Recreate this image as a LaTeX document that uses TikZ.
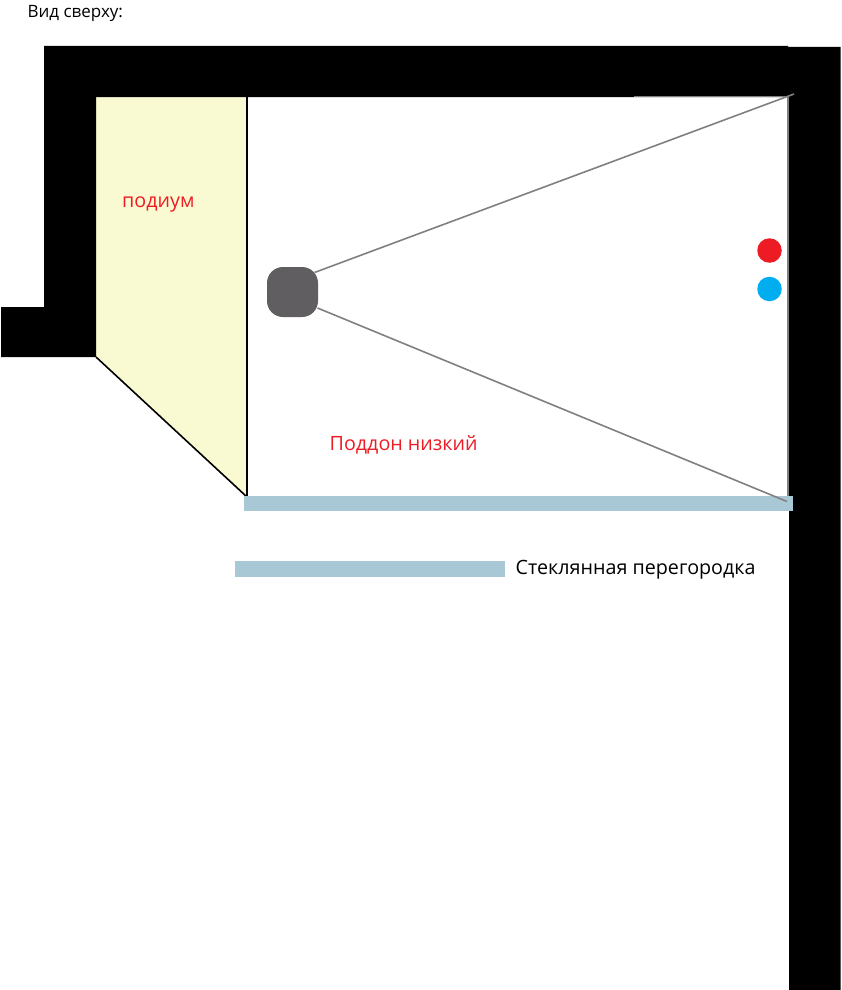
\documentclass[tikz,border=0pt]{standalone}
\usepackage{fontspec}
\setmainfont{Open Sans}
\definecolor{podiumfill}{HTML}{FAFAD2}
\definecolor{glassfill}{HTML}{A9C8D6}
\definecolor{devicefill}{HTML}{605E60}
\definecolor{rayline}{HTML}{808080}
\definecolor{hotred}{HTML}{ED1C24}
\definecolor{coldblue}{HTML}{00AEEF}
\definecolor{labelred}{HTML}{ED1C24}
\tikzset{
  wallshape/.style={fill=black,draw=none},
  glassbar/.style={fill=glassfill,draw=none},
  ray/.style={draw=rayline,line width=1.6pt},
  edgeline/.style={draw=black,line width=1.6pt},
  redlabel/.style={text=labelred,inner sep=0pt,anchor=base west,font=\fontsize{19.7}{22}\selectfont},
  blacklabel/.style={text=black,inner sep=0pt,anchor=base west,font=\fontsize{19.7}{22}\selectfont},
  devicebox/.style={fill=devicefill,draw=none,rounded corners=16pt,minimum width=51pt,minimum height=50pt,inner sep=0pt},
  valve/.style={circle,minimum size=24.5pt,inner sep=0pt,draw=none}
}
\begin{document}
\begin{tikzpicture}[x=1pt,y=-1pt]
\useasboundingbox (0,0) rectangle (842,990);
\fill[white] (0,0) rectangle (842,990);
% podium
\fill[podiumfill] (96,97) -- (247,97) -- (247,497) -- (96,357) -- cycle;
% walls
\fill[wallshape] (44,46) -- (788,46) -- (788,47) -- (840.5,47) -- (840.5,990) -- (789,990)
  -- (789,97) -- (96,97) -- (96,357) -- (1,357) -- (1,307) -- (44,307) -- cycle;
% podium edges
\draw[edgeline] (247,97) -- (247,497) -- (96,357);
% right inner edge
\draw[draw=rayline,line width=2pt] (787.5,97) -- (787.5,496);
\draw[draw=rayline,line width=0.8pt] (634,96.5) -- (788,96.5);
% glass
\fill[glassbar] (244,495.5) rectangle (793,511);
\fill[glassbar] (235,561) rectangle (505,577);
% device and rays
\node[devicebox] (device) at (292.5,292) {};
\coordinate (topcorner) at (794,94);
\coordinate (bottomcorner) at (787,501.5);
\coordinate (raystarta) at (314.5,272.5);
\coordinate (raystartb) at (317.5,308);
\draw[ray] (raystarta) -- (topcorner);
\draw[ray] (raystartb) -- (bottomcorner);
% valves
\node[valve,fill=hotred] (hot) at (769.5,250.5) {};
\node[valve,fill=coldblue] (cold) at (769.5,289) {};
% labels
\node[blacklabel,font=\fontsize{17}{19}\selectfont] (title) at (27.5,17.5) {Вид сверху:};
\node[redlabel] (podium) at (122,207) {подиум};
\node[redlabel] (tray) at (329.5,450) {Поддон низкий};
\node[blacklabel] (legend) at (515.5,574) {Стеклянная перегородка};
\end{tikzpicture}
\end{document}
